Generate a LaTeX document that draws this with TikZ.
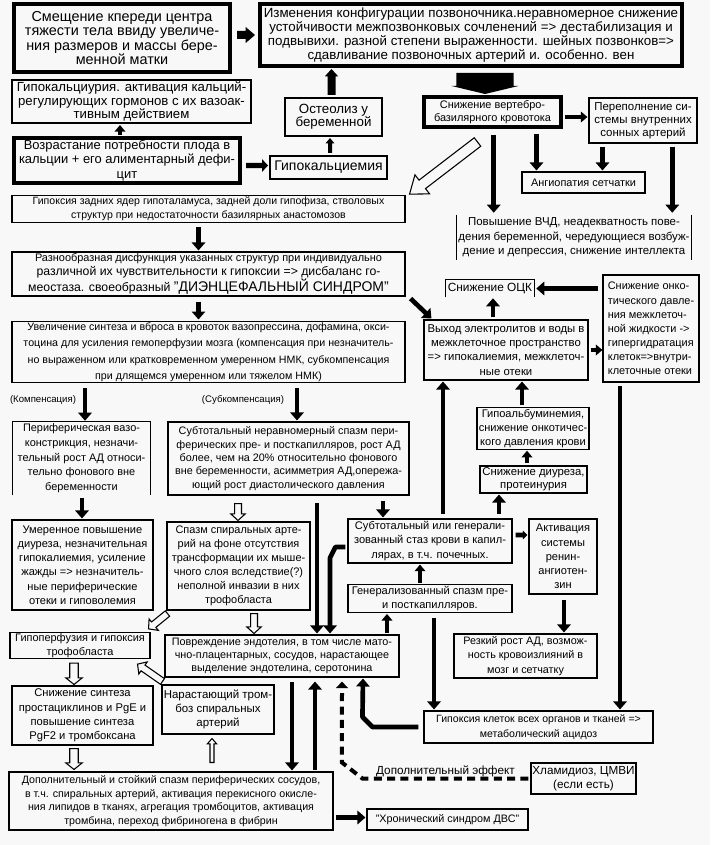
\documentclass[tikz,border=0pt]{standalone}
\usepackage{fontspec}
\setmainfont{Liberation Sans}
\usetikzlibrary{arrows.meta,calc}
\definecolor{bg}{RGB}{248,248,248}
\newcommand\fsz[2]{\fontsize{#1}{#2}\selectfont}
\newcommand\polyarrow[6]{%
 \path[#1] let \p1=(#2), \p2=(#3), \n1={atan2(\y2-\y1,\x2-\x1)}, \n2={veclen(\x2-\x1,\y2-\y1)} in
 ([shift={(\p1)},rotate=\n1]0pt,#4) -- ([shift={(\p1)},rotate=\n1]{\n2-#6},#4) -- ([shift={(\p1)},rotate=\n1]{\n2-#6},#5) -- (\p2) -- ([shift={(\p1)},rotate=\n1]{\n2-#6},-#5) -- ([shift={(\p1)},rotate=\n1]{\n2-#6},-#4) -- ([shift={(\p1)},rotate=\n1]0pt,-#4) -- cycle;}
\tikzset{
 every node/.style={inner sep=1pt, align=center, font=\fsz{8.2}{10.6}},
 bx/.style n args={4}{at={({(#1+#3)/2},{(#2+#4)/2})}, minimum width={(#3-#1)*0.75pt}, minimum height={(#4-#2)*0.75pt}},
 bthin/.style={draw, line width=0.8pt},
 bmid/.style={draw, line width=1.5pt},
 bfat/.style={draw, line width=3pt},
 conn/.style={line width=3.5pt, -{Triangle[length=6pt,width=10pt]}},
 connsm/.style={line width=2.8pt, -{Triangle[length=5pt,width=8pt]}},
 dashconn/.style={line width=3pt, dash pattern=on 6pt off 4pt, -{Triangle[length=5pt,width=9pt]}},
 blk/.style={fill=black},
 hol/.style={fill=bg, draw=black, line width=0.8pt, line join=miter},
}
\begin{document}
\begin{tikzpicture}[x=0.75pt,y=-0.75pt]
\fill[bg] (0,0) rectangle (710,845);
\useasboundingbox (0,0) rectangle (710,845);

% ---------- nodes ----------
\node[bx={14}{4}{230}{72}, bfat, font=\fsz{10.8}{10.9}] (A) {Смещение кпереди центра\\тяжести тела ввиду увеличе-\\ния размеров и массы бере-\\менной матки};
\node[bx={260}{4}{682}{66}, bfat, font=\fsz{10}{10.6}] (B) {Изменения конфигурации позвоночника.неравномерное снижение\\устойчивости межпозвонковых сочленений => дестабилизация и\\подвывихи. разной степени выраженности. шейных позвонков=>\\сдавливание позвоночных артерий и. особенно. вен};
\node[bx={12}{80}{251}{123}, bmid, font=\fsz{9.9}{10}] (C) {Гипокальциурия. активация кальций-\\регулирующих гормонов с их вазоак-\\тивным действием};
\node[bx={14}{138}{240}{183}, bfat, font=\fsz{9.7}{11}] (D) {Возрастание потребности плода в\\кальции + его алиментарный дефи-\\цит};
\node[bx={270}{156}{387}{179}, bmid, font=\fsz{10.5}{11}] (E) {Гипокальциемия};
\node[bx={285}{98}{382}{136}, bmid, font=\fsz{10}{10}] (F) {Остеолиз у\\беременной};
\node[bx={424}{97}{561}{127}, bfat, font=\fsz{8.2}{10}] (G) {Снижение вертебро-\\базилярного кровотока};
\node[bx={589}{98}{697}{143}, bthin, font=\fsz{8.6}{9.6}] (H) {Переполнение си-\\стемы внутренних\\сонных артерий};
\node[bx={522}{172}{645}{193}, bthin, font=\fsz{8.2}{10}] (J) {Ангиопатия сетчатки};
\node[bx={457}{215}{691}{260}, font=\fsz{8.6}{11}] (K) {Повышение ВЧД, неадекватность пове-\\дения беременной, чередующиеся возбуж-\\дение и депрессия, снижение интеллекта};
\node[bx={12}{196}{405}{222}, bthin, font=\fsz{7.9}{10.5}] (I) {Гипоксия задних ядер гипоталамуса, задней доли гипофиза, стволовых\\структур при недостаточности базилярных анастомозов};
\node[bx={12}{252}{405}{296}, bthin, font=\fsz{8.2}{10.5}] (L) {Разнообразная дисфункция указанных структур при индивидуально\\{\fsz{9.2}{10.5}различной их чувствительности к гипоксии => дисбаланс го-}\\{\fsz{9.2}{10.5}меостаза. своеобразный \fsz{10.5}{10.5}"ДИЭНЦЕФАЛЬНЫЙ СИНДРОМ"}};
\node[bx={12}{322}{405}{382}, bthin, font=\fsz{8.0}{12.3}] (M) {Увеличение синтеза и вброса в кровоток вазопрессина, дофамина, окси-\\тоцина для усиления гемоперфузии мозга (компенсация при незначитель-\\но выраженном или кратковременном умеренном НМК, субкомпенсация\\при длящемся умеренном или тяжелом НМК)};
\node[bx={424}{320}{588}{380}, bthin, font=\fsz{8.5}{10.7}] (N) {Выход электролитов и воды в\\межклеточное пространство\\=> гипокалиемия, межклеточ-\\ные отеки};
\node[bx={446}{280}{534}{297}, font=\fsz{8.9}{10}] (O) {Снижение ОЦК};
\node[bx={603}{275}{699}{382}, bthin, align=left, font=\fsz{8.2}{10.6}] (P) {Снижение онко-\\тического давле-\\ния межклеточ-\\ной жидкости ->\\гипергидратация\\клеток=>внутри-\\клеточные отеки};
\node[bx={477}{408}{589}{449}, bthin, font=\fsz{8.3}{10.6}] (Y2) {Гипоальбуминемия,\\снижение онкотичес-\\кого давления крови};
\node[bx={480}{466}{587}{493}, bthin, font=\fsz{8.5}{10}] (Y1) {Снижение диуреза,\\протеинурия};
\node[bx={348}{519}{512}{563}, bthin, font=\fsz{8.3}{10.6}] (R) {Субтотальный или генерали-\\зованный стаз крови в капил-\\лярах, в т.ч. почечных.};
\node[bx={529}{519}{597}{594}, bthin, font=\fsz{8.3}{10.6}] (W) {Активация\\системы\\ренин-\\ангиотен-\\зин};
\node[bx={348}{585}{512}{612}, bthin, font=\fsz{8.3}{11}] (X) {Генерализованный спазм пре-\\и посткапилляров.};
\node[bx={454}{634}{597}{678}, bthin, font=\fsz{8.1}{10.6}] (Z1) {Резкий рост АД, возмож-\\ность кровоизлияний в\\мозг и сетчатку};
\node[bx={424}{711}{653}{743}, bthin, font=\fsz{7.9}{10.7}] (Z) {Гипоксия клеток всех органов и тканей =>\\метаболический ацидоз};
\node[bx={165}{635}{399}{677}, bthin, font=\fsz{8.1}{10}] (V) {Повреждение эндотелия, в том числе мато-\\чно-плацентарных, сосудов, нарастающее\\выделение эндотелина, серотонина};
\node[bx={13}{422}{150}{495}, font=\fsz{8.2}{11}] (Q) {Периферическая вазо-\\констрикция, незначи-\\тельный рост АД относи-\\тельно фонового вне\\беременности};
\node[bx={12}{520}{153}{610}, bthin, font=\fsz{8.3}{10.7}] (S) {Умеренное повышение\\диуреза, незначительная\\гипокалиемия, усиление\\жажды => незначитель-\\ные периферические\\отеки и гиповолемия};
\node[bx={168}{422}{409}{495}, bthin, font=\fsz{8.1}{10}] (T) {Субтотальный неравномерный спазм пери-\\ферических пре- и посткапилляров, рост АД\\более, чем на 20\% относительно фонового\\вне беременности, асимметрия АД,опережа-\\ющий рост диастолического давления};
\node[bx={167}{522}{310}{610}, bthin, font=\fsz{8.2}{10.5}] (U) {Спазм спиральных арте-\\рий на фоне отсутствия\\трансформации их мыше-\\чного слоя вследствие(?)\\неполной инвазии в них\\трофобласта};
\node[bx={10}{633}{150}{658}, bthin, font=\fsz{8.2}{10}] (AA) {Гипоперфузия и гипоксия\\трофобласта};
\node[bx={12}{686}{153}{745}, bthin, font=\fsz{8.4}{10.8}] (BB) {Снижение синтеза\\простациклинов и PgE и\\повышение синтеза\\PgF2 и тромбоксана};
\node[bx={162}{685}{274}{734}, bthin, font=\fsz{8.6}{10.6}] (CC) {Нарастающий тром-\\боз спиральных\\артерий};
\node[bx={9}{772}{333}{830}, bthin, font=\fsz{8.0}{10.2}] (DD) {Дополнительный и стойкий спазм периферических сосудов,\\в т.ч. спиральных артерий, активация перекисного окисле-\\ния липидов в тканях, агрегация тромбоцитов, активация\\тромбина, переход фибриногена в фибрин};
\node[bx={531}{763}{636}{794}, bthin, font=\fsz{8.8}{10.5}] (EE) {Хламидиоз, ЦМВИ\\(если есть)};
\node[bx={367}{809}{528}{830}, bthin, font=\fsz{8.1}{10}] (FF) {"Хронический синдром ДВС"};
\node[font=\fsz{7.2}{8}] (comp) at (43,400) {(Компенсация)};
\node[font=\fsz{7.2}{8}] (subcomp) at (243,400) {(Субкомпенсация)};

% partial borders
\draw[line width=0.8pt] (K.north west) -- (K.south west) (K.north east) -- (K.south east);
\draw[line width=0.8pt] (Q.south west) -- (Q.north west) -- (Q.north east) -- (Q.south east);
\draw[line width=0.8pt] (O.south west) -- (O.north west) -- (O.north east) -- (O.south east);

% ---------- block arrows ----------
\polyarrow{blk}{$(A.east |- B.west)+(5,0)$}{$(B.west)+(-3,0)$}{3pt}{6pt}{7pt}
\polyarrow{blk}{$(G.north |- B.south)+(-7.5,5)$}{$(G.north)+(-7.5,-1)$}{21.5pt}{25pt}{6pt}
\polyarrow{blk}{$(D.east |- E.west)+(4,-2)$}{$(E.west)+(-1,-2)$}{2pt}{4.8pt}{4.5pt}
\polyarrow{blk}{$(E.north)+(1.5,-2)$}{$(E.north |- F.south)+(1.5,1)$}{1.5pt}{3.3pt}{4pt}
\polyarrow{blk}{$(F.north)+(-2,-2)$}{$(F.north |- B.south)+(-2,1)$}{3pt}{5pt}{5.5pt}
\polyarrow{blk}{$(R.east)+(3,-6)$}{$(R.east -| W.west)+(-1,-6)$}{1.8pt}{3.5pt}{3.5pt}

% ---------- hollow arrows ----------
\polyarrow{hol}{$(G.south)+(-15,13)$}{$(I.north east)+(4,-1)$}{4pt}{9pt}{12pt}
\polyarrow{hol}{$(T.south)+(-50.5,8)$}{$(U.north)+(-0.5,-1)$}{2.6pt}{5.5pt}{5pt}
\polyarrow{hol}{$(U.south)+(15.5,3)$}{$(V.north)+(-28,-1)$}{2.6pt}{5.5pt}{5pt}
\polyarrow{hol}{$(U.south west)+(1,3)$}{$(AA.north east)+(-2,-3)$}{2.6pt}{5.5pt}{5pt}
\polyarrow{hol}{$(AA.south)+(-6,4)$}{$(BB.north)+(-8.5,-1)$}{3.2pt}{6.2pt}{5pt}
\polyarrow{hol}{$(CC.north west)+(1,-3)$}{$(AA.south east)+(-13,5)$}{2.6pt}{5.5pt}{5pt}
\polyarrow{hol}{$(BB.south)+(-8.5,3)$}{$(DD.north)+(-97,-2)$}{3.2pt}{6.2pt}{5pt}
\polyarrow{hol}{$(DD.north)+(41,-9)$}{$(CC.south)+(-6,4)$}{1.5pt}{3.5pt}{4pt}

% ---------- thick connectors ----------
\draw[connsm] ($(D.north)+(-7,-1)$) -- ($(D.north |- C.south)+(-7,1)$);
\draw[connsm] ($(G.east)+(2,5)$) -- ($(G.east -| H.west)+(-1,5)$);
\draw[conn] ($(K.north west)+(37,-80)$) -- ($(K.north west)+(37,-2)$);
\draw[conn] ($(J.north west)+(15,-37)$) -- ($(J.north west)+(15,-1)$);
\draw[conn] ($(J.north west)+(81,-24)$) -- ($(J.north west)+(81,-1)$);
\draw[conn] ($(K.north east)+(-19,-68)$) -- ($(K.north east)+(-19,-2)$);
\draw[conn] ($(I.south)+(-10,4)$) -- ($(L.north)+(-10,-1)$);
\draw[conn] ($(L.south)+(-10,5)$) -- ($(M.north)+(-10,-1)$);
\draw[conn] ($(L.south east)+(5,2)$) -- ($(N.north west)+(8,-1)$);
\draw[conn] ($(N.north)+(-13,-2)$) -- ($(O.south)+(3,1)$);
\draw[conn] ($(P.west |- O.east)+(-4,0)$) -- ($(O.east)+(2,0)$);
\draw[connsm] ($(N.east)+(2,0)$) -- (N.east -| P.west);
\draw[conn] ($(Y2.north)+(-11,-2)$) -- ($(N.south)+(16,1)$);
\draw[conn] ($(R.north)+(13,-4)$) -- ($(N.south)+(-63,1)$);
\draw[conn] ($(R.north)+(69,-4)$) -- ($(Y1.south)+(-34.5,1)$);
\draw[connsm] ($(Y1.north)+(-6.5,-2)$) -- ($(Y2.south)+(-6,1)$);
\draw[conn] ($(T.south)+(94.5,5)$) -- ($(R.north)+(-47,-1)$);
\draw[connsm] ($(X.north)+(-10,-1)$) -- ($(R.south)+(-10,1)$);
\draw[connsm] ($(V.north)+(105,-1)$) -- ($(X.south)+(-43,1)$);
\draw[conn] ($(W.south)+(1,5)$) -- ($(Z1.north)+(38.5,-1)$);
\draw[conn] ($(X.south)+(4,5)$) -- ($(Z.north)+(-104.5,-1)$);
\draw[conn] ($(P.south)+(-31,3)$) -- ($(Z.north)+(81.5,-1)$);
\draw[conn, line join=round] ($(Z.west)+(-5,0)$) -- ($(Z.west)+(-51,0)$) -- ($(Z.west)+(-61,-10)$) -- ($(V.south)+(81,1)$);
\draw[conn] ($(T.south)+(28.5,7)$) -- ($(V.north)+(35,-1)$);
\draw[conn, line join=round] ($(R.west)+(-2,6)$) -- ($(R.west)+(-12,6)$) -- ($(R.west)+(-17.5,17)$) -- ($(V.north)+(48,-1)$);
\draw[conn] ($(V.south)+(10,4)$) -- ($(DD.north)+(121,-1)$);
\draw[conn] ($(DD.north)+(144,-1)$) -- ($(V.south)+(33,4)$);
\draw[dashconn] ($(EE.west)+(-2,0)$) -- ($(EE.west)+(-168,0)$) -- ($(EE.west)+(-188.5,-16)$) -- ($(V.south)+(60,4)$);
\node[font=\fsz{8.8}{10}, fill=none] (eff) at ($(EE.west)+(-85,-7)$) {Дополнительный эффект};
\draw[conn] ($(DD.east |- FF.west)+(2,-2)$) -- ($(FF.west)+(-1,-2)$);
\draw[conn] ($(M.south)+(-123.5,5)$) -- ($(Q.north)+(3.5,-1)$);
\draw[conn] ($(M.south)+(88.5,5)$) -- ($(T.north)+(8.5,-1)$);
\draw[conn] ($(Q.south)+(0.5,3)$) -- ($(S.north)+(-0.5,-1)$);
\end{tikzpicture}
\end{document}
